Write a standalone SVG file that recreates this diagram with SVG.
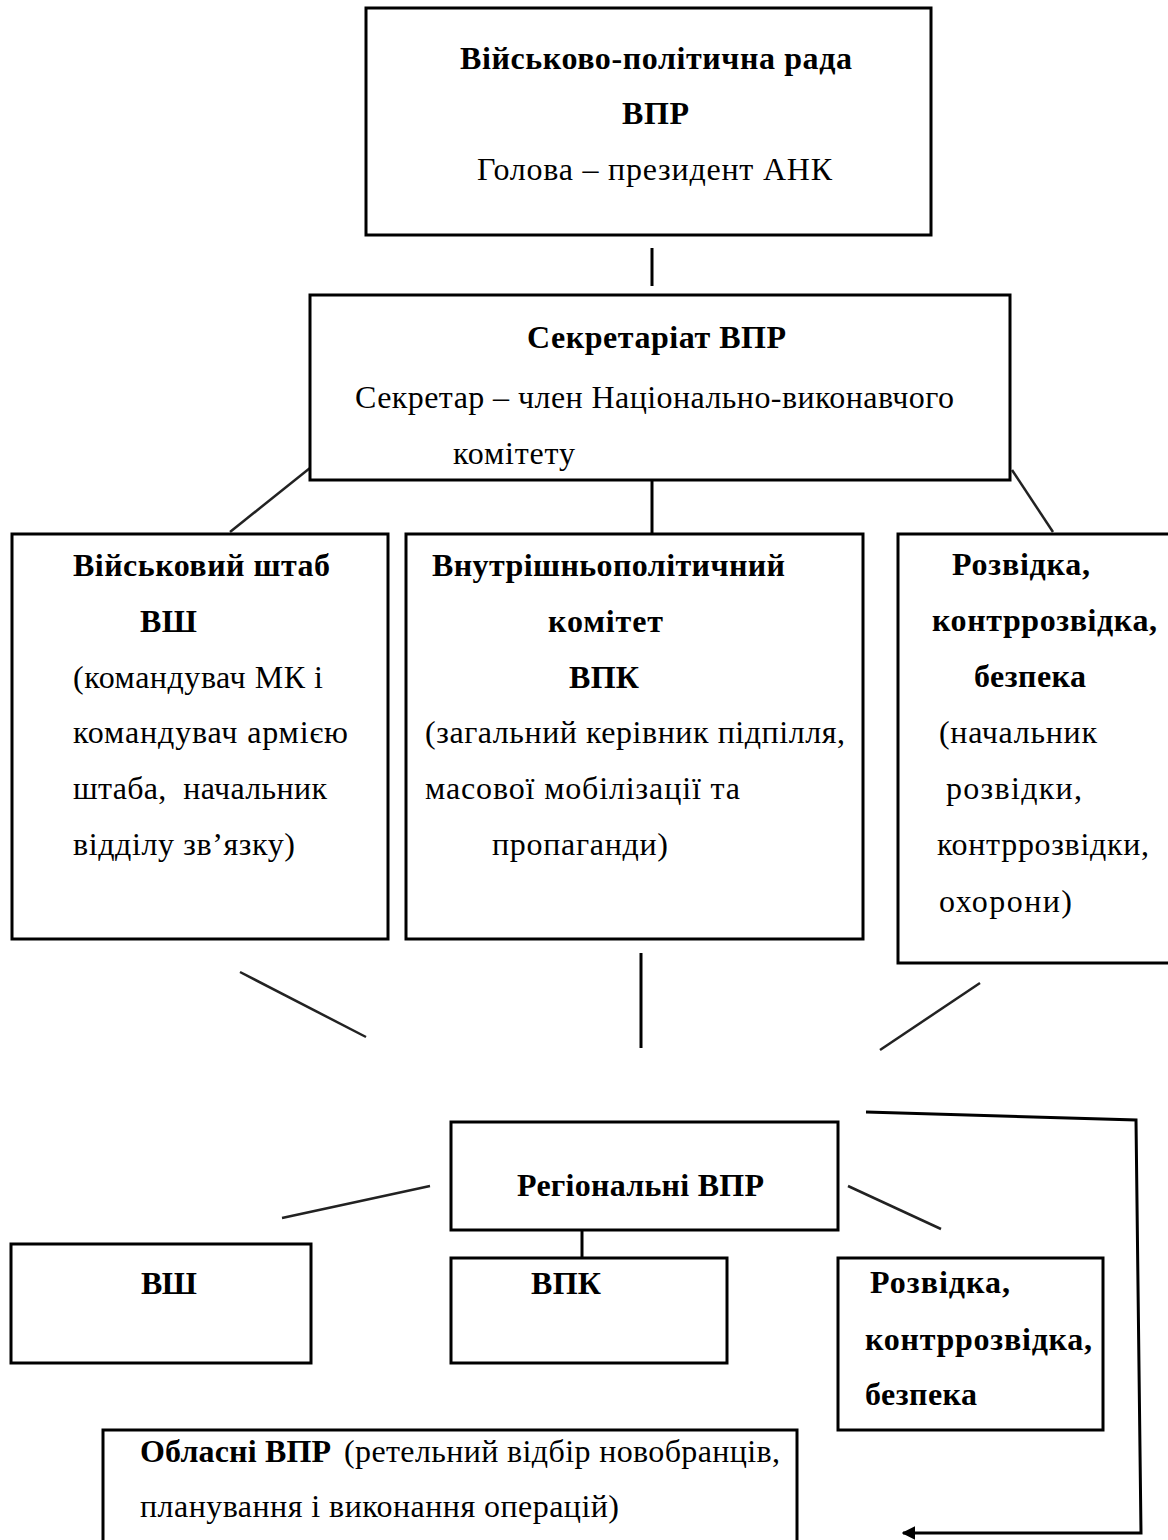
<svg xmlns="http://www.w3.org/2000/svg" width="1168" height="1540" viewBox="0 0 1168 1540">
<defs>
<style>
.box{fill:#fff;stroke:#000;stroke-width:3}
.ln{stroke:#000;stroke-width:3;fill:none}
.dg{stroke:#222;stroke-width:2.5;fill:none}
text{font-family:"Liberation Serif","Times New Roman",serif;font-size:32px;fill:#000}
.b{font-weight:bold}
</style>
<marker id="ah" viewBox="0 0 10 10" refX="9" refY="5" markerWidth="4.5" markerHeight="4.5" orient="auto" markerUnits="strokeWidth">
<path d="M0,0 L10,5 L0,10 z" fill="#000"/>
</marker>
</defs>
<rect width="1168" height="1540" fill="#fff"/>
<g id="connectors">
<line class="ln" x1="652" y1="248" x2="652" y2="286"/>
<line class="ln" x1="652" y1="480" x2="652" y2="533"/>
<line class="dg" x1="310" y1="468" x2="230" y2="532"/>
<line class="dg" x1="1012" y1="470" x2="1053" y2="532"/>
<line class="dg" x1="240" y1="972" x2="366" y2="1037"/>
<line class="ln" x1="641" y1="953" x2="641" y2="1048"/>
<line class="dg" x1="980" y1="983" x2="880" y2="1050"/>
<line class="dg" x1="282" y1="1218" x2="430" y2="1186"/>
<line class="dg" x1="848" y1="1186" x2="941" y2="1229"/>
<line class="ln" x1="582" y1="1231" x2="582" y2="1258"/>
<polyline class="ln" points="866,1112 1136,1120 1141,1533 903,1533" marker-end="url(#ah)"/>
</g>
<g id="n-vpr">
<rect class="box" x="366" y="8" width="565" height="227"/>
<text class="b" x="460" y="69" textLength="392">Військово-політична рада</text>
<text class="b" x="622" y="124" textLength="67">ВПР</text>
<text x="477" y="180" textLength="355">Голова – президент АНК</text>
</g>
<g id="n-secretariat">
<rect class="box" x="310" y="295" width="700" height="185"/>
<text class="b" x="527" y="348" textLength="259">Секретаріат ВПР</text>
<text x="355" y="408" textLength="599">Секретар – член Національно-виконавчого</text>
<text x="453" y="464" textLength="122">комітету</text>
</g>
<g id="n-vsh">
<rect class="box" x="12" y="534" width="376" height="405"/>
<text class="b" x="73" y="576" textLength="257">Військовий штаб</text>
<text class="b" x="140" y="632" textLength="57">ВШ</text>
<text x="73" y="688" textLength="250">(командувач МК і</text>
<text x="73" y="743" textLength="275">командувач армією</text>
<text x="73" y="799" textLength="254" xml:space="preserve">штаба,  начальник</text>
<text x="73" y="855" textLength="222">відділу зв’язку)</text>
</g>
<g id="n-vpk">
<rect class="box" x="406" y="534" width="457" height="405"/>
<text class="b" x="432" y="576" textLength="353">Внутрішньополітичний</text>
<text class="b" x="548" y="632" textLength="115">комітет</text>
<text class="b" x="569" y="688" textLength="70">ВПК</text>
<text x="425" y="743" textLength="420">(загальний керівник підпілля,</text>
<text x="425" y="799" textLength="315">масової мобілізації та</text>
<text x="492" y="855" textLength="176">пропаганди)</text>
</g>
<g id="n-intel">
<rect class="box" x="898" y="534" width="280" height="429"/>
<text class="b" x="952" y="575" textLength="138">Розвідка,</text>
<text class="b" x="932" y="631" textLength="225">контррозвідка,</text>
<text class="b" x="974" y="687" textLength="112">безпека</text>
<text x="939" y="743" textLength="158">(начальник</text>
<text x="946" y="799" textLength="136">розвідки,</text>
<text x="937" y="855" textLength="212">контррозвідки,</text>
<text x="939" y="912" textLength="133">охорони)</text>
</g>
<g id="n-regional">
<rect class="box" x="451" y="1122" width="387" height="108"/>
<text class="b" x="517" y="1196" textLength="247">Регіональні ВПР</text>
</g>
<g id="n-r-vsh">
<rect class="box" x="11" y="1244" width="300" height="119"/>
<text class="b" x="141" y="1294" textLength="56">ВШ</text>
</g>
<g id="n-r-vpk">
<rect class="box" x="451" y="1258" width="276" height="105"/>
<text class="b" x="531" y="1294" textLength="70">ВПК</text>
</g>
<g id="n-r-intel">
<rect class="box" x="838" y="1258" width="265" height="172"/>
<text class="b" x="870" y="1293" textLength="140">Розвідка,</text>
<text class="b" x="865" y="1350" textLength="227">контррозвідка,</text>
<text class="b" x="865" y="1405" textLength="112">безпека</text>
</g>
<g id="n-oblast">
<rect class="box" x="103" y="1430" width="694" height="120"/>
<text class="b" x="140" y="1462" textLength="191">Обласні ВПР</text>
<text x="344" y="1462" textLength="436">(ретельний відбір новобранців,</text>
<text x="140" y="1517" textLength="479">планування і виконання операцій)</text>
</g>
</svg>
